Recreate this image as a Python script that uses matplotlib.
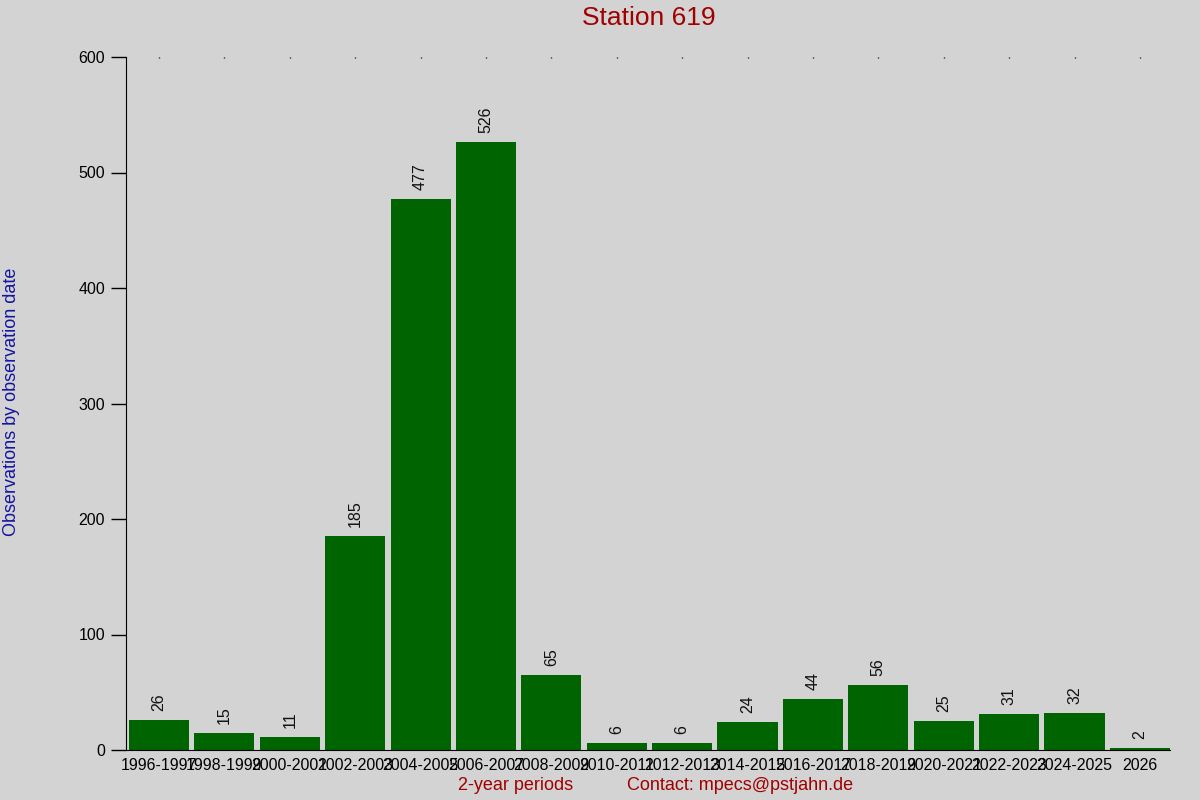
import matplotlib.pyplot as plt
import numpy as np

periods = ['1996-1997', '1998-1999', '2000-2001', '2002-2003', '2004-2005',
           '2006-2007', '2008-2009', '2010-2011', '2012-2013', '2014-2015',
           '2016-2017', '2018-2019', '2020-2021', '2022-2023', '2024-2025',
           '2026']
counts = [26, 15, 11, 185, 477, 526, 65, 6, 6, 24, 44, 56, 25, 31, 32, 2]

plt.rcParams['font.family'] = ['Liberation Sans', 'DejaVu Sans']

bg = '#d3d3d3'
fig = plt.figure(figsize=(12, 8), dpi=100, facecolor=bg)
ax = fig.add_axes([126 / 1200, 1 - 750 / 800, (1170 - 126) / 1200, (750 - 57) / 800])
ax.set_facecolor(bg)

x = np.arange(len(periods))
bars = ax.bar(x, counts, width=0.92, color='#006400', zorder=2)

# value labels, rotated, above each bar
for xi, c in zip(x, counts):
    ax.annotate(str(c), (xi, c), xytext=(0, 6.5), textcoords='offset points',
                rotation=90, ha='center', va='bottom', fontsize=11.5, color='#111111')

ax.set_xlim(-0.505, 15.46)
ax.set_ylim(0, 600)
ax.set_yticks([0, 100, 200, 300, 400, 500, 600])
ax.set_xticks(x)
ax.set_xticklabels(periods, fontsize=11.5)
ax.tick_params(axis='y', direction='out', length=11, width=1, labelsize=11.5, pad=4)
ax.tick_params(axis='x', bottom=False, top=True, direction='in', length=1,
               width=1, labelsize=11.5, pad=6)

ax.spines['top'].set_visible(False)
ax.spines['right'].set_visible(False)

fig.text(649 / 1200, 1 - 18 / 800, 'Station 619', ha='center', va='center',
         fontsize=19, color='#a00000')
fig.text(12 / 1200, 1 - 402 / 800, 'Observations by observation date',
         rotation=90, ha='center', va='center', fontsize=13, color='#1414a0')
fig.text(516 / 1200, 1 - 786 / 800, '2-year periods', ha='center', va='center',
         fontsize=13, color='#a00000')
fig.text(627 / 1200, 1 - 786 / 800, 'Contact: mpecs@pstjahn.de', ha='left',
         va='center', fontsize=13, color='#a00000')

fig.savefig('out.png', dpi=100, facecolor=bg)
